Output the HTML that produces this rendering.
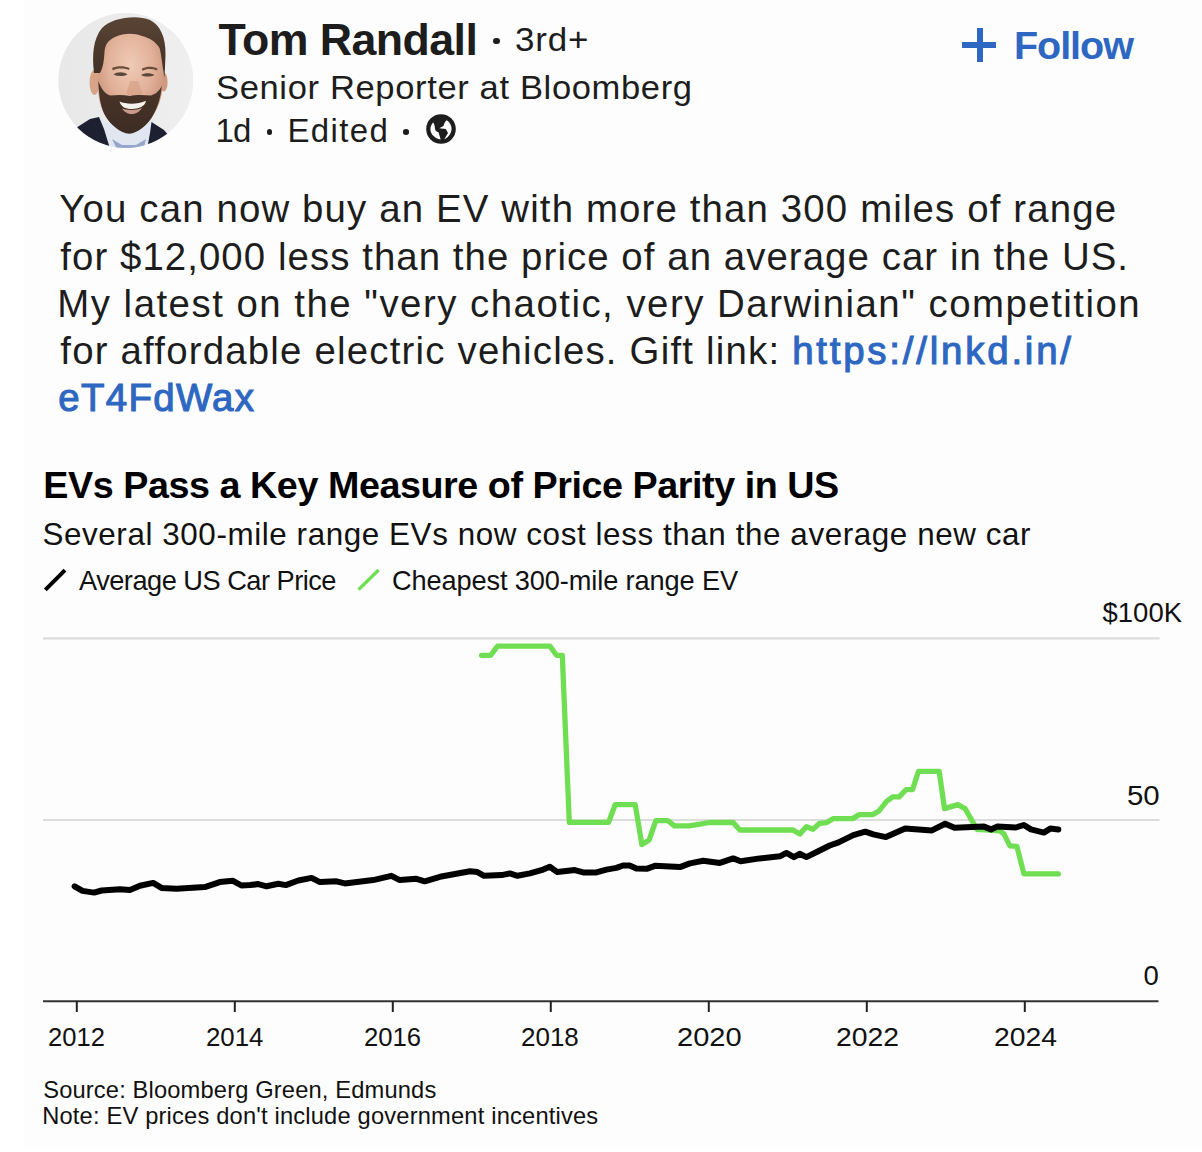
<!DOCTYPE html>
<html><head><meta charset="utf-8">
<style>
html,body{margin:0;padding:0;}
body{width:1202px;height:1152px;position:relative;overflow:hidden;background:#fdfdfd;font-family:"Liberation Sans",sans-serif;color:#1d1d1d;}
.t{position:absolute;white-space:nowrap;line-height:1;}
#strip{position:absolute;left:0;top:0;width:24px;height:1152px;background:#fff;}
</style></head><body>
<div id="strip"></div><div style="position:absolute;left:0;top:1148px;width:1202px;height:4px;background:#fff;"></div>
<!-- header -->
<svg style="position:absolute;left:50px;top:5px;" width="150" height="150" viewBox="0 0 150 150">
<defs><clipPath id="cc"><circle cx="75.8" cy="75.5" r="67.5"/></clipPath>
<radialGradient id="face" cx="0.5" cy="0.32" r="0.62"><stop offset="0" stop-color="#efcbb5"/><stop offset="0.55" stop-color="#e2b199"/><stop offset="1" stop-color="#c68f74"/></radialGradient>
<linearGradient id="hair" x1="0" y1="0" x2="0" y2="1"><stop offset="0" stop-color="#5a4434"/><stop offset="1" stop-color="#3f2f25"/></linearGradient>
<linearGradient id="beard" x1="0" y1="0" x2="0" y2="1"><stop offset="0" stop-color="#4a3529"/><stop offset="1" stop-color="#3d2c23"/></linearGradient>
<linearGradient id="bg" x1="0" y1="0" x2="1" y2="0"><stop offset="0" stop-color="#e8e8e8"/><stop offset="1" stop-color="#efefef"/></linearGradient></defs>
<circle cx="75.8" cy="75.5" r="67.5" fill="url(#bg)"/>
<g clip-path="url(#cc)">
<path d="M47 112 L54 124 L62 150 L98 150 L102 124 L104 114 L92 120 L62 120 Z" fill="#e0e7f1"/>
<path d="M62 134 L70 150 L92 150 L96 134 L86 140 L72 140 Z" fill="#7d8fbf" opacity="0.75"/>
<path d="M15 130 L40 114 L49 112 L54 124 L62 150 L15 150 Z" fill="#1c2030"/>
<path d="M101.5 117 L114 125 L135 150 L96 150 L100 128 Z" fill="#1c2030"/>
<ellipse cx="44.5" cy="77.5" rx="5" ry="12.5" fill="#d8a488"/>
<ellipse cx="113.8" cy="77" rx="3.8" ry="9.5" fill="#cf9a7e"/>
<path d="M48 44 C50 26 100 22 111 40 C114 56 114 76 111.5 90 C107 110 97 122 79 127 C62 124 51 110 48.5 90 C47.5 74 47 58 48 44 Z" fill="url(#face)"/>
<path d="M44 68 C42 50 43 34 52 23 C61 13 86 9 100 15 C110 20 116 32 115.5 50 L114.5 73 C112.5 62 111.5 50 109.5 43 C106 37 100 33 92 31 C84 28 74 28 65 32 C58 35 55 40 54.5 47 C54 54 53.5 62 50 68 Z" fill="url(#hair)"/>
<path d="M62 63 C67 60.5 74 60.5 79.5 63 L79 65 C73 63 67 63 63 65.5 Z" fill="#6b4d3b"/>
<path d="M92 63.5 C97 61 103 61 107.5 63.5 L107 65.5 C102 63.5 96.5 63.5 92.5 66 Z" fill="#6b4d3b"/>
<path d="M63.5 69.5 C67 66.5 74 66.5 77.5 69.5 C73 71.5 68 71.5 63.5 69.5 Z" fill="#5a473d"/>
<path d="M91 70 C94.5 67.5 101 67.5 104.5 70 C100.5 72 95 72 91 70 Z" fill="#5a473d"/>
<path d="M80 76 C79 82 76 86 77 89 C80 91.5 88 91.5 92 89 C93 86 90 82 88 76 Z" fill="#d49c80" opacity="0.6"/>
<path d="M48.3 76 C49 92 51 104 56 112 C61 120 70 128 79.3 128.8 C88 128 96 121 101.5 113 C107 104 110.5 94 111.8 81 C109 86 106 89 101 90.5 C94 90 86 89.5 80 91 C73 89.5 66 90 60 90.5 C54 88 51 83 48.3 76 Z" fill="url(#beard)"/>
<path d="M69.5 96.5 C76 99.5 88 99.5 96 95.8 C95 101.5 89 104 82 104 C75 104 71 101.5 69.5 96.5 Z" fill="#f5f1ec"/>
<path d="M72 103.5 C76 105.5 87 105.5 92 103 C89 107.5 85 109 82 109 C78 109 74 107 72 103.5 Z" fill="#c99a8a"/>
</g>
</svg>

<div class="t" id="name" style="left:218.6px;letter-spacing:-0.56px;top:17.7px;font-size:44.7px;font-weight:bold;">Tom Randall</div>
<div style="position:absolute;left:493.2px;top:37.8px;width:6.6px;height:6.6px;border-radius:50%;background:#1d1d1d;"></div>
<div class="t" id="deg" style="left:515.0px;letter-spacing:0.8px;transform:scaleX(1.06);transform-origin:0 0;top:22.5px;font-size:33px;">3rd+</div>
<div class="t" id="job" style="left:215.99px;letter-spacing:0.6px;transform:scaleX(1.0534);transform-origin:0 0;top:72.1px;font-size:32.8px;">Senior Reporter at Bloomberg</div>
<div class="t" id="m1" style="left:215.6px;top:113.7px;font-size:33px;letter-spacing:-1.00px;">1d</div>
<div style="position:absolute;left:266.7px;top:129.2px;width:5.6px;height:5.6px;border-radius:50%;background:#1d1d1d;"></div>
<div class="t" id="m2" style="left:287.5px;top:113.7px;font-size:33px;letter-spacing:1.36px;">Edited</div>
<div style="position:absolute;left:403.4px;top:129.2px;width:5.6px;height:5.6px;border-radius:50%;background:#1d1d1d;"></div>
<svg style="position:absolute;left:426px;top:114.3px;" width="30" height="30" viewBox="0 0 30 30"><circle cx="15" cy="15" r="14.8" fill="#1d1d1d"/>
<path d="M7 8.4 C5.2 10.5 4.3 13 4.4 15.4 C4.6 20 8.5 24.3 14.7 25.6 L12.5 18.3 C10.5 17.5 9.2 16.5 9.2 15.4 C8.8 14 8.8 12.5 8.8 12.5 C8.4 10.8 8.1 9.5 7 8.4 Z" fill="#fdfdfd"/>
<path d="M20.9 6.2 C24 8.5 25.6 11.5 25.6 14.7 C25.6 19 22.5 23.5 18.3 25.3 L22 19 L19.8 15 L13.2 14.3 C14.5 13.2 16.5 12.8 17.6 11.7 C18 10.3 18.2 9.5 18.7 8.8 C19.2 7.5 19.9 6.7 20.9 6.2 Z" fill="#fdfdfd"/></svg>
<div class="t" id="follow" style="left:1014.0px;letter-spacing:-1.04px;top:25.6px;font-size:39.5px;font-weight:bold;color:#2d67c2;">Follow</div>
<div style="position:absolute;left:962px;top:41.5px;width:34px;height:6px;background:#2d67c2;"></div>
<div style="position:absolute;left:976.5px;top:27.5px;width:6px;height:34px;background:#2d67c2;"></div>
<!-- post text -->
<div class="t" id="p1" style="left:59.3px;letter-spacing:1.14px;top:190.4px;font-size:38.4px;">You can now buy an EV with more than 300 miles of range</div>
<div class="t" id="p2" style="left:60.3px;letter-spacing:1.06px;top:237.9px;font-size:38.4px;">for $12,000 less than the price of an average car in the US.</div>
<div class="t" id="p3" style="left:57.3px;letter-spacing:1.49px;top:284.9px;font-size:38.4px;">My latest on the "very chaotic, very Darwinian" competition</div>
<div class="t" id="p4" style="left:60.3px;letter-spacing:1.20px;top:331.8px;font-size:38.4px;">for affordable electric vehicles. Gift link: <span id="lnk" style="letter-spacing:2.8px;color:#2d67c2;-webkit-text-stroke:1.1px #2d67c2;">https://lnkd.in/</span></div>
<div class="t" id="p5" style="left:58.3px;letter-spacing:0.67px;top:378.9px;font-size:38.4px;"><span id="lnk2" style="letter-spacing:1.34px;color:#2d67c2;-webkit-text-stroke:1.1px #2d67c2;">eT4FdWax</span></div>
<!-- chart text -->
<div class="t" id="ct" style="left:43.3px;letter-spacing:-0.44px;top:466.5px;font-size:37.7px;font-weight:bold;color:#000;">EVs Pass a Key Measure of Price Parity in US</div>
<div class="t" id="cs" style="left:42.5px;letter-spacing:0.58px;top:518.8px;font-size:31.4px;color:#111;">Several 300-mile range EVs now cost less than the average new car</div>
<div class="t" id="l1" style="left:79.0px;letter-spacing:-0.50px;top:567.3px;font-size:27.2px;color:#111;">Average US Car Price</div>
<div class="t" id="l2" style="left:392.0px;letter-spacing:-0.12px;top:567.3px;font-size:27.2px;color:#111;">Cheapest 300-mile range EV</div>
<div class="t" id="y100" style="left:1102.5px;letter-spacing:0px;transform:scaleX(1.0);transform-origin:0 0;top:598.6px;font-size:27.5px;color:#111;">$100K</div>
<div class="t" id="y50" style="left:1127.0px;letter-spacing:0px;transform:scaleX(1.07);transform-origin:0 0;top:781.5px;font-size:27.5px;color:#111;">50</div>
<div class="t" id="y0" style="left:1143.4px;letter-spacing:0px;transform:scaleX(1.0);transform-origin:0 0;top:962px;font-size:27.5px;color:#111;">0</div>
<div class="t" id="x12" style="left:48.32px;top:1024px;font-size:26.5px;color:#111;letter-spacing:0px;transform:scaleX(0.9649);transform-origin:0 0;">2012</div>
<div class="t" id="x14" style="left:206.31px;top:1024px;font-size:26.5px;color:#111;letter-spacing:0px;transform:scaleX(0.9744);transform-origin:0 0;">2014</div>
<div class="t" id="x16" style="left:364.33px;top:1024px;font-size:26.5px;color:#111;letter-spacing:0px;transform:scaleX(0.9685);transform-origin:0 0;">2016</div>
<div class="t" id="x18" style="left:521.42px;top:1024px;font-size:26.5px;color:#111;letter-spacing:0px;transform:scaleX(0.9808);transform-origin:0 0;">2018</div>
<div class="t" id="x20" style="left:676.73px;top:1024px;font-size:26.5px;color:#111;letter-spacing:0px;transform:scaleX(1.0966);transform-origin:0 0;">2020</div>
<div class="t" id="x22" style="left:836.25px;top:1024px;font-size:26.5px;color:#111;letter-spacing:0px;transform:scaleX(1.0702);transform-origin:0 0;">2022</div>
<div class="t" id="x24" style="left:994.25px;top:1024px;font-size:26.5px;color:#111;letter-spacing:0px;transform:scaleX(1.0692);transform-origin:0 0;">2024</div>
<div class="t" id="s1" style="left:43.2px;letter-spacing:0.15px;top:1079.2px;font-size:23.7px;color:#111;">Source: Bloomberg Green, Edmunds</div>
<div class="t" id="s2" style="left:42.2px;letter-spacing:0.18px;top:1105.4px;font-size:23.7px;color:#111;">Note: EV prices don't include government incentives</div>

<svg width="1202" height="1152" style="position:absolute;left:0;top:0;">
<line x1="43" y1="638.4" x2="1159.5" y2="638.4" stroke="#dcdcdc" stroke-width="2.2"/>
<line x1="43" y1="820" x2="1159.5" y2="820" stroke="#dcdcdc" stroke-width="2.2"/>
<line x1="43" y1="1001.2" x2="1158.5" y2="1001.2" stroke="#333" stroke-width="2"/>
<line x1="76.8" y1="1001" x2="76.8" y2="1012" stroke="#222" stroke-width="2"/><line x1="234.8" y1="1001" x2="234.8" y2="1012" stroke="#222" stroke-width="2"/><line x1="392.8" y1="1001" x2="392.8" y2="1012" stroke="#222" stroke-width="2"/><line x1="550.8" y1="1001" x2="550.8" y2="1012" stroke="#222" stroke-width="2"/><line x1="708.8" y1="1001" x2="708.8" y2="1012" stroke="#222" stroke-width="2"/><line x1="866.8" y1="1001" x2="866.8" y2="1012" stroke="#222" stroke-width="2"/><line x1="1024.8" y1="1001" x2="1024.8" y2="1012" stroke="#222" stroke-width="2"/>
<line x1="45.3" y1="589.8" x2="65" y2="570.2" stroke="#000" stroke-width="4"/>
<line x1="358.6" y1="589.6" x2="378.6" y2="570" stroke="#70de52" stroke-width="3.4"/>
<polyline points="481.6,655.3 490.8,655.3 497.5,646.1 549.9,646.1 556.5,655.3 562.3,655.3 569.3,822.3 608.6,822.3 615.2,804.6 635.2,804.6 641.9,844.6 649.2,839.9 655.8,820.6 667.8,820.6 674.5,825.9 689.1,825.9 699.9,824.2 709.9,822.5 733.2,822.5 739.8,830 793,830 799.7,834.1 806.4,826.7 813,829.2 819.7,823.3 826.7,822.6 833.3,818.6 852.6,818.6 859.3,814.6 872.6,814.6 878.6,811.3 886.6,801.3 892.6,796.9 899.2,796.9 905.9,789.7 912.5,789.7 918.5,771.3 939.2,771.3 944.5,808.6 957.8,804.6 965.1,808.6 977,829.4 999.9,830.9 1003.9,833.9 1009.9,845.9 1016.9,846.4 1023.9,873.9 1058.3,873.9" fill="none" stroke="#70de52" stroke-width="5.3" stroke-linejoin="round" stroke-linecap="round"/>
<polyline points="74.6,886.3 82.5,890.9 94.1,892.6 101.6,890.5 119.9,889.3 129.9,890.1 139.9,885.8 153.2,882.9 161.5,887.9 176.5,888.8 204.8,887.1 219.7,882.1 233,880.8 241.4,885.5 250,885.1 258.3,884.1 266.6,886.3 278.3,883.8 285.8,885.1 298.3,880.5 311.6,877.9 319.9,882.1 336.5,881.3 344.8,883.4 373.1,880.1 391.4,875.8 399.8,880.1 416.4,878.8 424.7,881.3 440,876.8 470,871.3 477.4,872.1 484.1,875.8 501.6,875.1 509.9,873.4 517.4,875.8 529.9,873.4 543.2,869.6 549.8,866.8 557.3,872.1 574.8,870.1 583.1,872.4 596.4,872.4 606.4,869.6 616.4,867.9 623,865.5 629.7,865.5 636.3,868.4 646.6,868.8 655,865.8 679.9,867.1 689.9,863.4 703.2,860.8 719.9,862.9 733.2,858.4 740.6,861.3 759.8,858.4 779.8,856.3 786.4,852.9 793.9,857.1 799.7,853.8 806.4,857.1 819.7,850.5 829.7,845.5 838.6,842.4 853.3,835.1 865.3,831.7 873.3,834.4 885.9,837.1 905.2,828.4 931.9,830.4 945.2,823.7 954.5,827.7 984,826.6 991,829.4 997.4,826.5 1015.9,827.5 1023.9,825.0 1030.9,829.4 1043.8,832.6 1050.3,828.6 1058.3,829.4" fill="none" stroke="#000" stroke-width="6" stroke-linejoin="round" stroke-linecap="round"/>
</svg>
</body></html>
